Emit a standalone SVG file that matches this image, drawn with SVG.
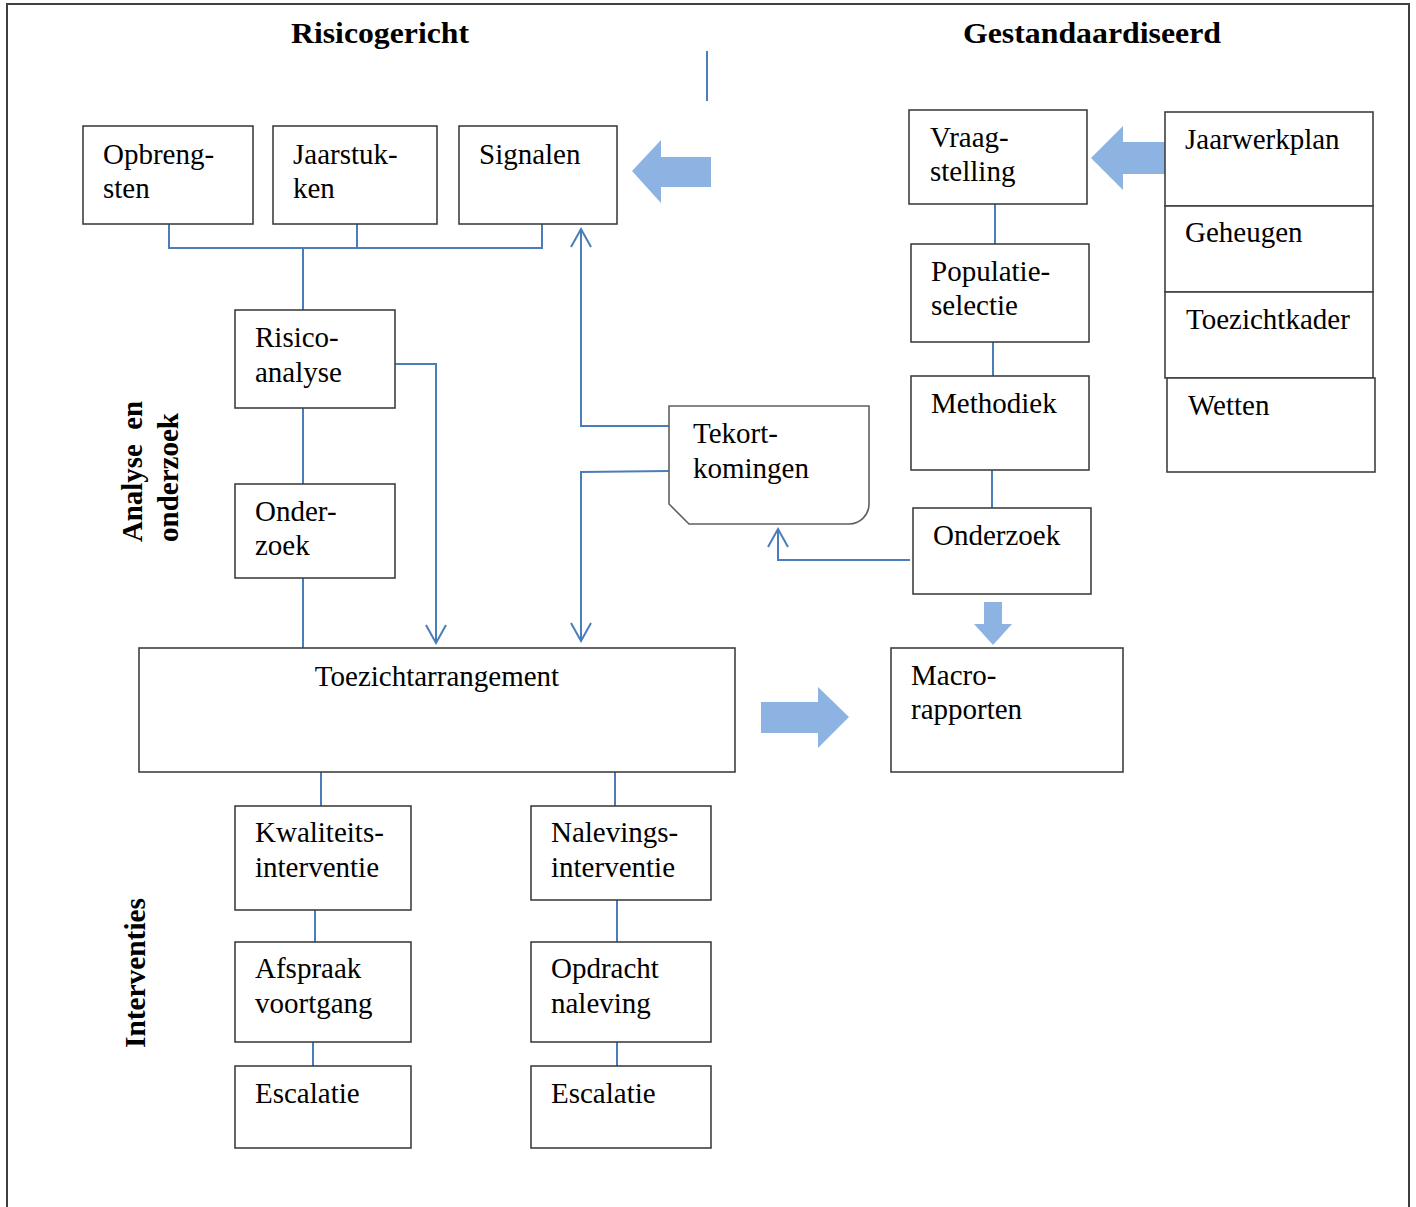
<svg xmlns="http://www.w3.org/2000/svg" width="1416" height="1207" viewBox="0 0 1416 1207">
<style>
.box{fill:#fff;stroke:#404040;stroke-width:1.6}
.t{font-family:"Liberation Serif","Times New Roman",serif;font-size:29px;fill:#000}
.h{font-family:"Liberation Serif","Times New Roman",serif;font-size:30px;font-weight:bold;fill:#000}
.v{font-family:"Liberation Serif","Times New Roman",serif;font-size:29px;font-weight:bold;fill:#000}
.c{fill:none;stroke:#4a7ebb;stroke-width:2}
.ba{fill:#8db3e2;stroke:none}
</style>
<defs>
<marker id="arr" viewBox="-20 -12 22 24" markerWidth="22" markerHeight="24" refX="0" refY="0" orient="auto" markerUnits="userSpaceOnUse">
<path d="M-18,-10 L0,0 L-18,10" fill="none" stroke="#4a7ebb" stroke-width="2"/>
</marker>
</defs>
<rect x="0" y="0" width="1416" height="1207" fill="#fff"/>
<rect x="7" y="4" width="1402" height="1220" fill="none" stroke="#404040" stroke-width="2"/>

<g id="titles">
<text class="h" x="380" y="43" text-anchor="middle" textLength="178" lengthAdjust="spacingAndGlyphs">Risicogericht</text>
<text class="h" x="1092" y="43" text-anchor="middle" textLength="258" lengthAdjust="spacingAndGlyphs">Gestandaardiseerd</text>
<text class="v" transform="translate(142,542) rotate(-90)" xml:space="preserve" textLength="141" lengthAdjust="spacingAndGlyphs">Analyse  en</text>
<text class="v" transform="translate(178,542) rotate(-90)" textLength="129" lengthAdjust="spacingAndGlyphs">onderzoek</text>
<text class="v" transform="translate(145,1048) rotate(-90)" textLength="150" lengthAdjust="spacingAndGlyphs">Interventies</text>
</g>

<g id="connectors">
<line class="c" x1="707" y1="51" x2="707" y2="101"/>
<polyline class="c" points="169,224 169,248 542,248 542,224"/>
<line class="c" x1="357" y1="224" x2="357" y2="248"/>
<line class="c" x1="303" y1="248" x2="303" y2="310"/>
<line class="c" x1="303" y1="408" x2="303" y2="484"/>
<line class="c" x1="303" y1="578" x2="303" y2="648"/>
<polyline class="c" points="395,364 436,364 436,643" marker-end="url(#arr)"/>
<polyline class="c" points="669,426 581,426 581,229" marker-end="url(#arr)"/>
<polyline class="c" points="669,471 581,472 581,641" marker-end="url(#arr)"/>
<polyline class="c" points="910,560 778,560 778,529" marker-end="url(#arr)"/>
<line class="c" x1="995" y1="204" x2="995" y2="244"/>
<line class="c" x1="993" y1="342" x2="993" y2="376"/>
<line class="c" x1="992" y1="470" x2="992" y2="508"/>
<line class="c" x1="321" y1="772" x2="321" y2="806"/>
<line class="c" x1="615" y1="772" x2="615" y2="806"/>
<line class="c" x1="315" y1="910" x2="315" y2="942"/>
<line class="c" x1="617" y1="900" x2="617" y2="942"/>
<line class="c" x1="313" y1="1042" x2="313" y2="1066"/>
<line class="c" x1="617" y1="1042" x2="617" y2="1066"/>
<polygon class="ba" points="632,171 661,140 661,157 711,157 711,187 661,187 661,203"/>
<polygon class="ba" points="1091,158 1123,126 1123,142 1165,142 1165,174 1123,174 1123,190"/>
<polygon class="ba" points="984,602 1002,602 1002,624 1012,624 993,645 974,624 984,624"/>
<polygon class="ba" points="761,702 818,702 818,687 849,717 818,748 818,733 761,733"/>
</g>

<g id="opbrengsten"><rect class="box" x="83" y="126" width="170" height="98"/><text class="t" x="103" y="164">Opbreng-</text><text class="t" x="103" y="198">sten</text></g>
<g id="jaarstukken"><rect class="box" x="273" y="126" width="164" height="98"/><text class="t" x="293" y="164">Jaarstuk-</text><text class="t" x="293" y="198">ken</text></g>
<g id="signalen"><rect class="box" x="459" y="126" width="158" height="98"/><text class="t" x="479" y="164">Signalen</text></g>
<g id="risicoanalyse"><rect class="box" x="235" y="310" width="160" height="98"/><text class="t" x="255" y="347">Risico-</text><text class="t" x="255" y="382">analyse</text></g>
<g id="onderzoek-links"><rect class="box" x="235" y="484" width="160" height="94"/><text class="t" x="255" y="521">Onder-</text><text class="t" x="255" y="555">zoek</text></g>
<g id="tekortkomingen"><path d="M669,406 H869 V504 A20,20 0 0 1 849,524 H689 L669,504 Z" fill="#fff" stroke="#606060" stroke-width="1.6"/><text class="t" x="693" y="443">Tekort-</text><text class="t" x="693" y="478">komingen</text></g>
<g id="toezichtarrangement"><rect class="box" x="139" y="648" width="596" height="124"/><text class="t" x="437" y="686" text-anchor="middle">Toezichtarrangement</text></g>
<g id="vraagstelling"><rect class="box" x="909" y="110" width="178" height="94"/><text class="t" x="930" y="147">Vraag-</text><text class="t" x="930" y="181">stelling</text></g>
<g id="populatieselectie"><rect class="box" x="911" y="244" width="178" height="98"/><text class="t" x="931" y="281">Populatie-</text><text class="t" x="931" y="315">selectie</text></g>
<g id="methodiek"><rect class="box" x="911" y="376" width="178" height="94"/><text class="t" x="931" y="413">Methodiek</text></g>
<g id="onderzoek-rechts"><rect class="box" x="913" y="508" width="178" height="86"/><text class="t" x="933" y="545">Onderzoek</text></g>
<g id="macrorapporten"><rect class="box" x="891" y="648" width="232" height="124"/><text class="t" x="911" y="685">Macro-</text><text class="t" x="911" y="719">rapporten</text></g>
<g id="jaarwerkplan"><rect class="box" x="1165" y="112" width="208" height="94"/><text class="t" x="1185" y="149">Jaarwerkplan</text></g>
<g id="geheugen"><rect class="box" x="1165" y="206" width="208" height="86"/><text class="t" x="1185" y="242">Geheugen</text></g>
<g id="toezichtkader"><rect class="box" x="1165" y="292" width="208" height="86"/><text class="t" x="1186" y="329">Toezichtkader</text></g>
<g id="wetten"><rect class="box" x="1167" y="378" width="208" height="94"/><text class="t" x="1188" y="415">Wetten</text></g>
<g id="kwaliteitsinterventie"><rect class="box" x="235" y="806" width="176" height="104"/><text class="t" x="255" y="842">Kwaliteits-</text><text class="t" x="255" y="877">interventie</text></g>
<g id="nalevingsinterventie"><rect class="box" x="531" y="806" width="180" height="94"/><text class="t" x="551" y="842">Nalevings-</text><text class="t" x="551" y="877">interventie</text></g>
<g id="afspraak-voortgang"><rect class="box" x="235" y="942" width="176" height="100"/><text class="t" x="255" y="978">Afspraak</text><text class="t" x="255" y="1013">voortgang</text></g>
<g id="opdracht-naleving"><rect class="box" x="531" y="942" width="180" height="100"/><text class="t" x="551" y="978">Opdracht</text><text class="t" x="551" y="1013">naleving</text></g>
<g id="escalatie-links"><rect class="box" x="235" y="1066" width="176" height="82"/><text class="t" x="255" y="1103">Escalatie</text></g>
<g id="escalatie-rechts"><rect class="box" x="531" y="1066" width="180" height="82"/><text class="t" x="551" y="1103">Escalatie</text></g>
</svg>
